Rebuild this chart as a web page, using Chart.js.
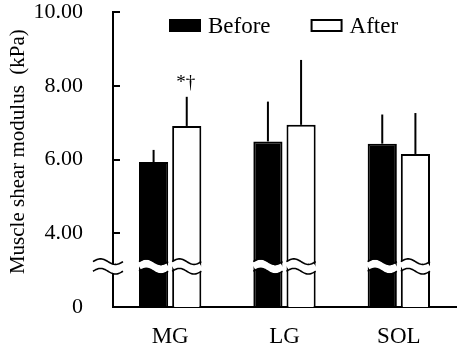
<!DOCTYPE html>
<html><head><meta charset="utf-8">
<script src="https://cdn.jsdelivr.net/npm/chart.js@4"></script>
<style>html,body{margin:0;padding:0;background:#fff}#wrap{width:459px;height:348px}</style>
</head><body><div id="wrap"><canvas id="c" width="459" height="348"></canvas></div>
<script>
const categories = ['MG', 'LG', 'SOL'];
const seriesNames = ['Before', 'After'];
const beforeValues = [5.93, 6.49, 6.43];
const beforeSD = [0.33, 1.08, 0.79];
const afterValues = [6.91, 6.94, 6.15];
const afterSD = [0.79, 1.76, 1.11];
const afterMarks = ['*†', '', ''];
const yTickValues = [2, 4, 6, 8, 10];
const yTickLabels = ['0', '4.00', '6.00', '8.00', '10.00'];
const axisTitle = '   Muscle shear modulus  (kPa)';
const breakValue = 3.1;

const FONT = "'Liberation Serif', 'Times New Roman', serif";
const sdLists = [beforeSD, afterSD];
const markLists = [null, afterMarks];

function wave(ctx, x0, x1, cy, amp) {
  ctx.beginPath();
  const n = 30;
  for (let i = 0; i <= n; i++) {
    const t = i / n;
    const x = x0 + t * (x1 - x0);
    const y = cy - amp * Math.sin(2 * Math.PI * t);
    if (i === 0) ctx.moveTo(x, y); else ctx.lineTo(x, y);
  }
  ctx.stroke();
}
function breakBand(ctx, x0, x1, cy) {
  ctx.save();
  ctx.lineCap = 'butt';
  ctx.strokeStyle = '#fff';
  ctx.lineWidth = 8;
  wave(ctx, x0, x1, cy, 2.8);
  ctx.strokeStyle = '#000';
  ctx.lineWidth = 1.6;
  wave(ctx, x0, x1, cy - 4.8, 2.8);
  wave(ctx, x0, x1, cy + 4.8, 2.8);
  ctx.restore();
}

const extras = {
  id: 'extras',
  afterDatasetsDraw(chart) {
    const ctx = chart.ctx;
    const ys = chart.scales.y;
    const area = chart.chartArea;
    ctx.save();
    ctx.strokeStyle = '#000';
    ctx.lineWidth = 2;
    yTickValues.forEach(v => {
      if (v === ys.min) return;
      const y = Math.round(ys.getPixelForValue(v));
      ctx.beginPath();
      ctx.moveTo(area.left, y);
      ctx.lineTo(area.left + 7, y);
      ctx.stroke();
    });
    chart.data.datasets.forEach((ds, di) => {
      const meta = chart.getDatasetMeta(di);
      meta.data.forEach((bar, i) => {
        const top = ys.getPixelForValue(ds.data[i] + sdLists[di][i]);
        ctx.beginPath();
        ctx.moveTo(bar.x, bar.y);
        ctx.lineTo(bar.x, top);
        ctx.stroke();
        const marks = markLists[di];
        if (marks && marks[i]) {
          ctx.fillStyle = '#000';
          ctx.font = '19px ' + FONT;
          ctx.textAlign = 'center';
          ctx.textBaseline = 'alphabetic';
          ctx.fillText(marks[i], bar.x - 1, top - 9);
        }
      });
    });
    ctx.restore();
  },
  afterDraw(chart) {
    const ctx = chart.ctx;
    const ys = chart.scales.y;
    const area = chart.chartArea;
    const cy = ys.getPixelForValue(breakValue);
    breakBand(ctx, area.left - 20, area.left + 10, cy);
    chart.data.datasets.forEach((ds, di) => {
      chart.getDatasetMeta(di).data.forEach(bar => {
        const w = bar.width;
        breakBand(ctx, bar.x - w / 2, bar.x + w / 2, cy);
      });
    });
    ctx.save();
    ctx.font = '23px ' + FONT;
    ctx.textBaseline = 'middle';
    ctx.textAlign = 'left';
    const boxW = 32, boxH = 13, gap = 7, itemGap = 40;
    const items = chart.data.datasets.map(ds => ({
      text: ds.label, fill: ds.backgroundColor, stroke: ds.borderColor,
      w: boxW + gap + ctx.measureText(ds.label).width
    }));
    let x = area.left + 56;
    const y = area.top + 7;
    items.forEach(it => {
      ctx.fillStyle = it.fill;
      ctx.fillRect(x, y, boxW, boxH);
      ctx.strokeStyle = it.stroke;
      ctx.lineWidth = 2;
      ctx.strokeRect(x + 1, y + 1, boxW - 2, boxH - 2);
      ctx.fillStyle = '#000';
      ctx.fillText(it.text, x + boxW + gap, y + boxH / 2 + 1);
      x += it.w + itemGap;
    });
    ctx.restore();
  }
};

new Chart(document.getElementById('c'), {
  type: 'bar',
  data: {
    labels: categories,
    datasets: [
      { label: seriesNames[0], data: beforeValues, backgroundColor: '#000', borderColor: '#000', borderWidth: 2,
        barPercentage: 0.88, categoryPercentage: 0.58 },
      { label: seriesNames[1], data: afterValues, backgroundColor: '#fff', borderColor: '#000', borderWidth: 2,
        barPercentage: 0.88, categoryPercentage: 0.58 }
    ]
  },
  options: {
    responsive: false,
    animation: false,
    devicePixelRatio: 1,
    layout: { padding: { top: 12, right: 3, left: 0, bottom: 0 } },
    plugins: { legend: { display: false }, tooltip: { enabled: false } },
    scales: {
      x: {
        z: 1,
        grid: { drawOnChartArea: false, drawTicks: false, color: 'rgba(0,0,0,0)' },
        border: { display: true, color: '#000', width: 2 },
        ticks: { color: '#000', font: { family: FONT, size: 23 }, padding: 16 },
        afterFit(s) { s.height = 41; s.paddingLeft = 0; s.paddingRight = 0; }
      },
      y: {
        min: 2, max: 10,
        afterBuildTicks(s) { s.ticks = yTickValues.map(v => ({ value: v })); },
        grid: { drawOnChartArea: false, drawTicks: false, color: 'rgba(0,0,0,0)' },
        border: { display: true, color: '#000', width: 2 },
        ticks: {
          color: '#000', font: { family: FONT, size: 22 }, padding: 30,
          callback: (v) => yTickLabels[yTickValues.indexOf(v)]
        },
        title: { display: true, text: axisTitle, color: '#000', font: { family: FONT, size: 21 }, padding: { top: 6, bottom: 0 } },
        afterFit(s) { s.width = 113; s.paddingTop = 0; s.paddingBottom = 0; }
      }
    }
  },
  plugins: [extras]
});
</script>
</body></html>
